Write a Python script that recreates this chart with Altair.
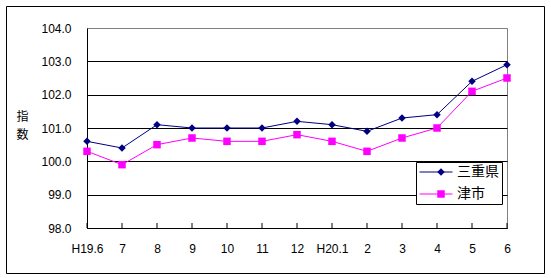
import altair as alt
import pandas as pd

months = ["H19.6", "7", "8", "9", "10", "11", "12", "H20.1", "2", "3", "4", "5", "6"]
mie = [100.6, 100.4, 101.1, 101.0, 101.0, 101.0, 101.2, 101.1, 100.9, 101.3, 101.4, 102.4, 102.9]
tsu = [100.3, 99.9, 100.5, 100.7, 100.6, 100.6, 100.8, 100.6, 100.3, 100.7, 101.0, 102.1, 102.5]
series_names = ["三重県", "津市"]
marker_keys = ["三重県_pt", "津市_pt"]
colors = ["#000080", "#FF00FF"]
shapes = ["diamond", "square"]
y_ticks = [98, 99, 100, 101, 102, 103, 104]

rows = []
for name, key, vals in zip(series_names, marker_keys, [mie, tsu]):
    for m, v in zip(months, vals):
        rows.append({"month": m, "series": name, "marker": key, "value": v})
df = pd.DataFrame(rows)
df_months = pd.DataFrame({"month": months})

LATIN = "Liberation Sans"
CJK = "Noto Sans CJK JP"

x_enc = alt.X(
    "month:N",
    sort=months,
    scale=alt.Scale(type="point", padding=0),
    axis=alt.Axis(
        title=None, labelAngle=0, labelFont=LATIN, labelFontSize=12,
        labelColor="black", labelPadding=15, ticks=False, domainColor="black",
        domainWidth=1, grid=False, labelOverlap=False,
    ),
)
y_enc = alt.Y(
    "value:Q",
    scale=alt.Scale(domain=[98, 104], nice=False, zero=False),
    axis=alt.Axis(
        title=["指", "数"], titleAngle=0, titleFont=CJK, titleFontSize=12,
        titleFontWeight="normal", titleColor="black", titleX=-65, titleY=83,
        titleAlign="center", titleBaseline="top", titleLineHeight=18,
        values=y_ticks, format=".1f", labelFont=LATIN, labelFontSize=12,
        labelColor="black", labelPadding=16, ticks=False,
        domainColor="black", domainWidth=1,
        grid=True, gridWidth=1,
        gridColor={"condition": {"test": "datum.value >= 104", "value": "#808080"}, "value": "black"},
    ),
)

legend_lines = alt.Legend(
    title=None, orient="none", legendX=329, legendY=134, direction="vertical",
    symbolType="stroke", symbolSize=1089, symbolStrokeWidth=1, symbolOpacity=1,
    clipHeight=14, rowPadding=8, padding=3, symbolOffset=0, labelOffset=4,
    labelFont=CJK, labelFontSize=14, labelColor="black",
    strokeColor="black", fillColor="white", zindex=1,
)
legend_points = alt.Legend(
    title=None, orient="none", legendX=344, legendY=134, direction="vertical",
    symbolSize=56, symbolOpacity=1, symbolStrokeWidth=0,
    clipHeight=14, rowPadding=8, padding=3, symbolOffset=0, labelOffset=4,
    labelFont=CJK, labelFontSize=14, labelColor="transparent",
    labelExpr="''",
    strokeColor="transparent", fillColor="transparent", zindex=2,
)

frame = alt.Chart(pd.DataFrame({"k": [0]})).mark_rect(
    fill="transparent", stroke="black", strokeWidth=1
).encode(
    x=alt.value(-80.5), x2=alt.value(457.5), y=alt.value(-21.5), y2=alt.value(245.5)
)

ticks = alt.Chart(df_months).mark_rule(color="black", strokeWidth=1).encode(
    x=x_enc, y=alt.value(200), y2=alt.value(195)
)

lines = alt.Chart(df).mark_line(strokeWidth=1).encode(
    x=x_enc,
    y=y_enc,
    stroke=alt.Stroke("series:N", scale=alt.Scale(domain=series_names, range=colors), legend=legend_lines),
)

points = alt.Chart(df).mark_point(filled=True, size=56, opacity=1).encode(
    x=x_enc,
    y=y_enc,
    fill=alt.Fill("marker:N", scale=alt.Scale(domain=marker_keys, range=colors), legend=legend_points),
    shape=alt.Shape("marker:N", scale=alt.Scale(domain=marker_keys, range=shapes), legend=legend_points),
)

chart = alt.layer(frame, ticks, lines, points).properties(
    width=420,
    height=200,
    padding={"left": 87, "top": 28, "right": 44, "bottom": 50},
    autosize=alt.AutoSizeParams(type="none"),
    background="white",
).configure_view(stroke="#808080", strokeWidth=1)

chart.save("out.html", embed_options={"renderer": "svg", "actions": False})
